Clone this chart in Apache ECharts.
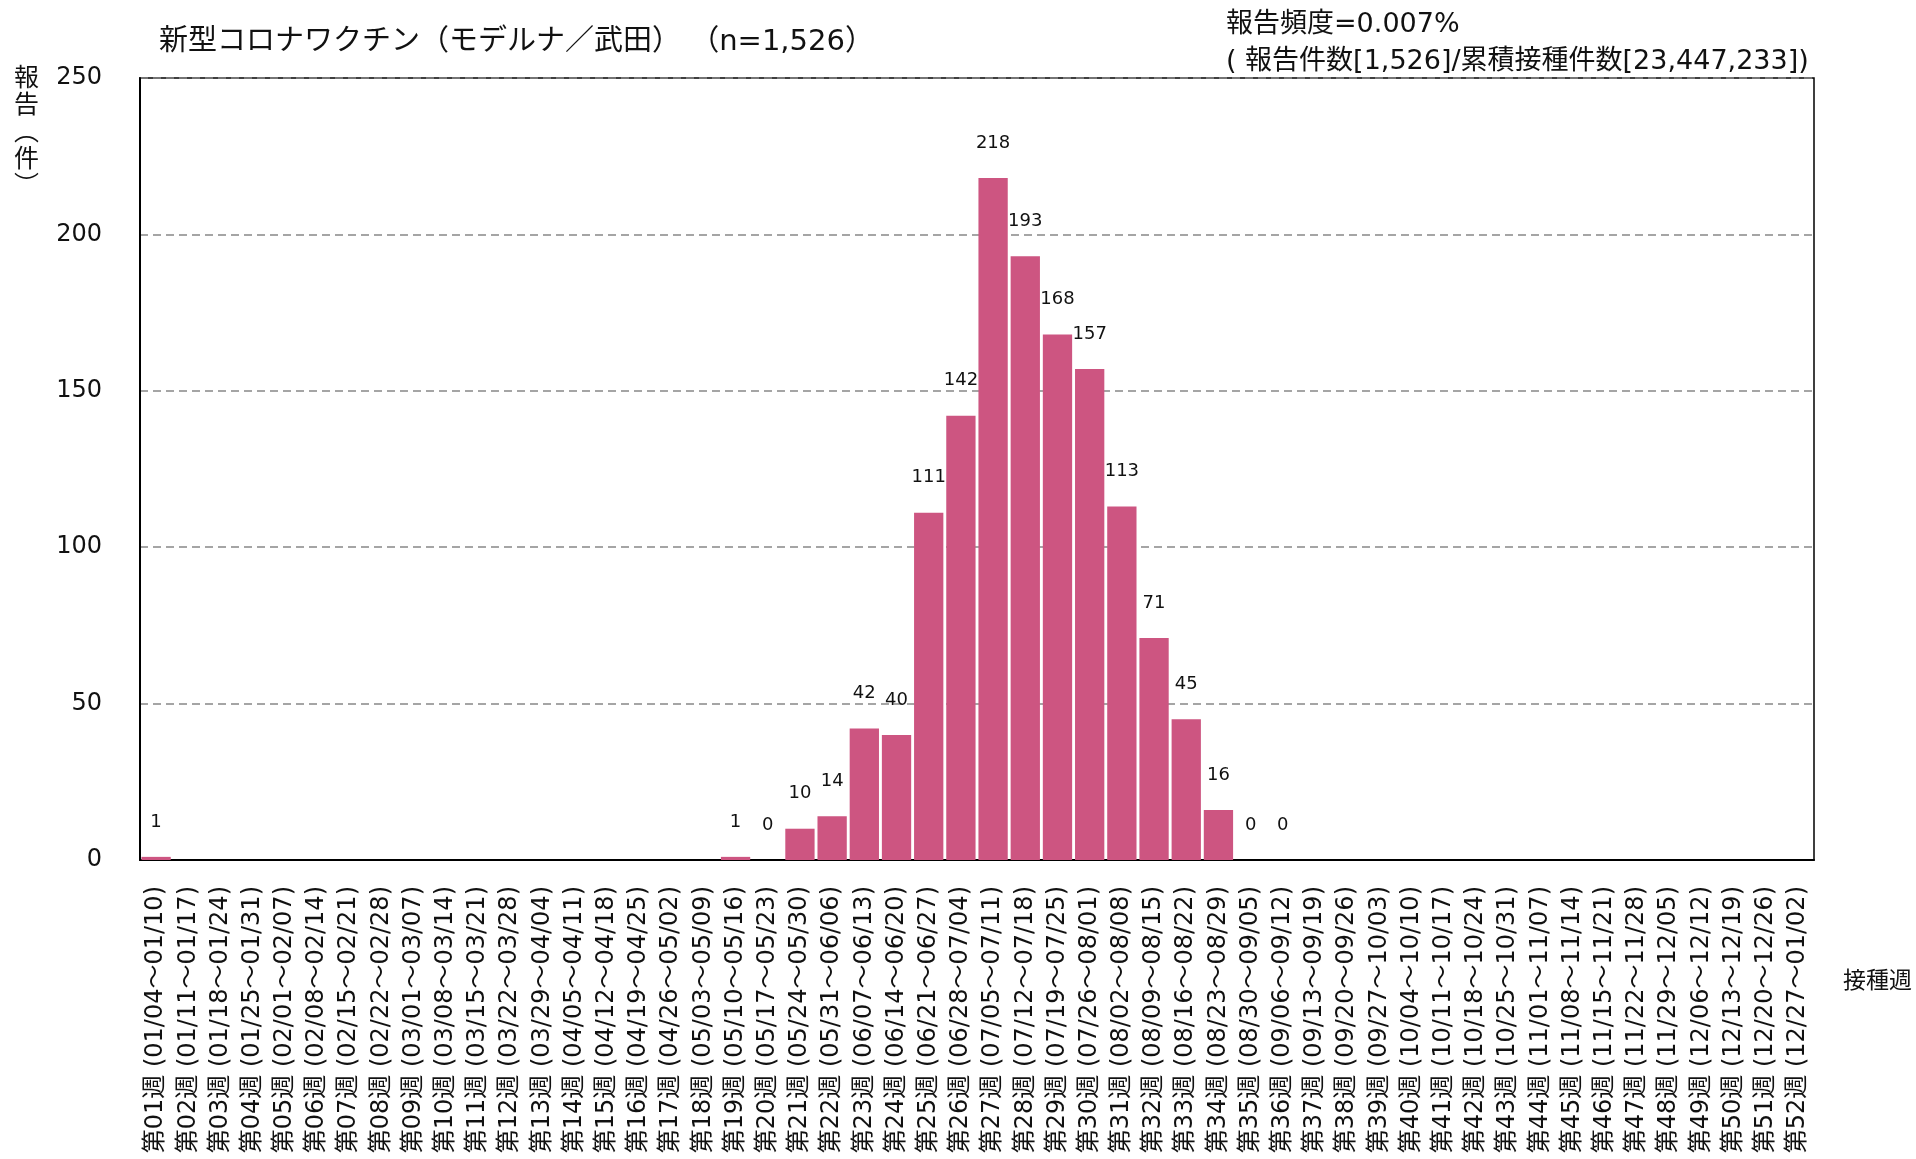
<!DOCTYPE html>
<html>
<head>
<meta charset="utf-8">
<script src="https://cdn.jsdelivr.net/npm/echarts@6/dist/echarts.min.js"></script>
<style>
html,body{margin:0;padding:0;background:#fff;}
#c{width:1916px;height:1159px;}
</style>
</head>
<body>
<div id="c"></div>
<script>
const weeks = ['第01週','第02週','第03週','第04週','第05週','第06週','第07週','第08週','第09週','第10週',
'第11週','第12週','第13週','第14週','第15週','第16週','第17週','第18週','第19週','第20週',
'第21週','第22週','第23週','第24週','第25週','第26週','第27週','第28週','第29週','第30週',
'第31週','第32週','第33週','第34週','第35週','第36週','第37週','第38週','第39週','第40週',
'第41週','第42週','第43週','第44週','第45週','第46週','第47週','第48週','第49週','第50週',
'第51週','第52週'];
const periods = ['01/04～01/10','01/11～01/17','01/18～01/24','01/25～01/31','02/01～02/07','02/08～02/14',
'02/15～02/21','02/22～02/28','03/01～03/07','03/08～03/14','03/15～03/21','03/22～03/28','03/29～04/04',
'04/05～04/11','04/12～04/18','04/19～04/25','04/26～05/02','05/03～05/09','05/10～05/16','05/17～05/23',
'05/24～05/30','05/31～06/06','06/07～06/13','06/14～06/20','06/21～06/27','06/28～07/04','07/05～07/11',
'07/12～07/18','07/19～07/25','07/26～08/01','08/02～08/08','08/09～08/15','08/16～08/22','08/23～08/29',
'08/30～09/05','09/06～09/12','09/13～09/19','09/20～09/26','09/27～10/03','10/04～10/10','10/11～10/17',
'10/18～10/24','10/25～10/31','11/01～11/07','11/08～11/14','11/15～11/21','11/22～11/28','11/29～12/05',
'12/06～12/12','12/13～12/19','12/20～12/26','12/27～01/02'];
const reports = [1,'-','-','-','-','-','-','-','-','-','-','-','-','-','-','-','-','-',
1,0,10,14,42,40,111,142,218,193,168,157,113,71,45,16,0,0,
'-','-','-','-','-','-','-','-','-','-','-','-','-','-','-','-'];
const yTicks = [0,50,100,150,200,250];

const titleText = '新型コロナワクチン（モデルナ／武田） （n=1,526）';
const freqLine1 = '報告頻度=0.007%';
const freqLine2 = '( 報告件数[1,526]/累積接種件数[23,447,233])';
const yName = '報\n告\n︵\n件\n︶';
const xName = '接種週';

const categories = weeks.map((w, i) => w + ' (' + periods[i] + ')');
const FONT = '"DejaVu Sans", "Noto Sans CJK JP", sans-serif';

const chart = echarts.init(document.getElementById('c'), null, {renderer: 'canvas'});
chart.setOption({
  animation: false,
  backgroundColor: '#fff',
  textStyle: {fontFamily: FONT, color: '#111'},
  grid: {left: 140, right: 102, top: 78, bottom: 299, show: true, borderColor: '#000', borderWidth: 1.5, backgroundColor: 'transparent'},
  xAxis: {
    type: 'category',
    data: categories,
    axisLine: {show: true, lineStyle: {color: '#000', width: 2}},
    axisTick: {show: false},
    axisLabel: {interval: 0, rotate: 90, margin: 26, fontSize: 24, color: '#111', fontFamily: FONT},
    splitLine: {show: false}
  },
  yAxis: {
    type: 'value',
    min: yTicks[0], max: yTicks[yTicks.length - 1], interval: 50,
    axisLine: {show: true, lineStyle: {color: '#000', width: 2}},
    axisTick: {show: false},
    axisLabel: {margin: 38, fontSize: 24, color: '#111', fontFamily: FONT},
    splitLine: {show: true, lineStyle: {color: '#888', type: [8, 5], width: 1.5}}
  },
  series: [{
    type: 'bar',
    data: reports,
    barCategoryGap: '9%',
    itemStyle: {color: '#CD5581'},
    label: {show: true, position: 'top', distance: 26, fontSize: 18, color: '#111', fontFamily: FONT}
  }],
  graphic: [
    {type: 'text', left: 159, top: 28, style: {text: titleText, font: '29px ' + FONT, fill: '#111'}},
    {type: 'text', left: 1226, top: 11, style: {text: freqLine1, font: '27px ' + FONT, fill: '#111'}},
    {type: 'text', left: 1226, top: 48, style: {text: freqLine2, font: '27px ' + FONT, fill: '#111'}},
    {type: 'text', left: 14, top: 66, style: {text: yName, font: '25px ' + FONT, fill: '#111', lineHeight: 27}},
    {type: 'text', left: 1843, top: 971, style: {text: xName, font: '23px ' + FONT, fill: '#111'}}
  ]
});
</script>
</body>
</html>
